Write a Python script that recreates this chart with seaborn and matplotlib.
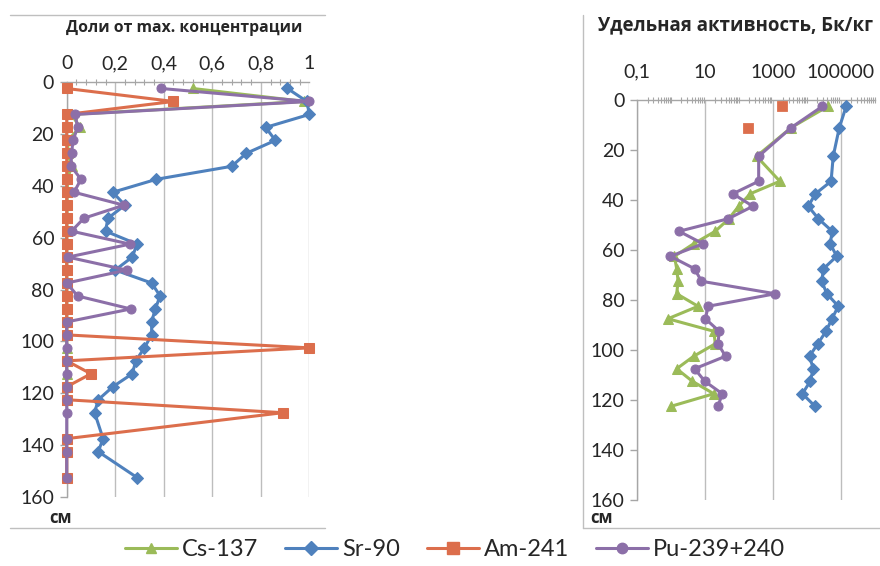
import numpy as np
import matplotlib
matplotlib.use('Agg')
import matplotlib.pyplot as plt
import matplotlib.ticker as mticker
from matplotlib.lines import Line2D
import seaborn as sns

# ---- data: left panel, fraction of max concentration ----
depth_left = [2.5, 7.5, 12.5, 17.5, 22.5, 27.5, 32.5, 37.5, 42.5, 47.5,
              52.5, 57.5, 62.5, 67.5, 72.5, 77.5, 82.5, 87.5, 92.5, 97.5,
              102.5, 107.5, 112.5, 117.5, 122.5, 127.5, 137.5, 142.5, 152.5]
depth_cs_left = depth_left[:25]

cs_left = [0.52, 0.98, 0.02, 0.055, 0.004, 0.005, 0.02, 0.003, 0.002, 0.001,
           0.001, 0.0, 0.0, 0.0, 0.0, 0.0, 0.0, 0.0, 0.0, 0.0,
           0.0, 0.0, 0.0, 0.0, 0.0]
sr_left = [0.91, 0.99, 1.0, 0.82, 0.86, 0.74, 0.68, 0.37, 0.19, 0.24,
           0.17, 0.16, 0.29, 0.27, 0.20, 0.35, 0.385, 0.365, 0.35, 0.35,
           0.32, 0.285, 0.27, 0.19, 0.13, 0.115, 0.15, 0.13, 0.29]
am_left = [0.0, 0.44, 0.0, 0.0, 0.0, 0.0, 0.0, 0.0, 0.0, 0.0,
           0.0, 0.0, 0.0, 0.0, 0.0, 0.0, 0.0, 0.0, 0.0, 0.0,
           1.0, 0.0, 0.1, 0.0, 0.0, 0.89, 0.0, 0.0, 0.0]
pu_left = [0.39, 1.0, 0.035, 0.045, 0.026, 0.02, 0.018, 0.059, 0.03, 0.236,
           0.071, 0.02, 0.261, 0.005, 0.247, 0.0, 0.045, 0.264, 0.0, 0.0,
           0.0, 0.0, 0.0, 0.0, 0.0, 0.0, 0.0, 0.0, 0.0]

# ---- data: right panel, specific activity, Bq/kg ----
depth_right = [2.5, 11, 22.5, 32.5, 37.5, 42.5, 47.5, 52.5, 57.5, 62.5,
               67.5, 72.5, 77.5, 82.5, 87.5, 92.5, 97.5, 102.5, 107.5,
               112.5, 117.5, 122.5]
cs_right = [42000, 3500, 330, 1600, 214, 98, 50, 20, 4.6, 1.25,
            1.45, 1.6, 1.45, 6.2, 0.8, 18, 20, 4.6, 1.45, 4.2, 18, 1.0]
sr_right = [145000, 91000, 60000, 52000, 18000, 11000, 22000, 56000, 49000,
            76000, 31000, 27500, 39000, 85000, 55000, 37000, 21000, 12000,
            15500, 12600, 7400, 17400]
pu_right = [29000, 3500, 380, 380, 66, 257, 48, 1.7, 8.7, 0.95,
            4.9, 7.8, 1175, 12.3, 10.2, 26, 24, 40, 4.9, 9.8, 32, 24]
depth_am_right = [2.5, 11]
am_right = [1900, 180]

names = ['Cs-137', 'Sr-90', 'Am-241', 'Pu-239+240']
colors = {'Cs-137': '#9BBB59', 'Sr-90': '#4F81BD',
          'Am-241': '#DC6E4C', 'Pu-239+240': '#8C6FA8'}
markers = {'Cs-137': '^', 'Sr-90': 'D', 'Am-241': 's', 'Pu-239+240': 'o'}
msize = {'Cs-137': 6.5, 'Sr-90': 6, 'Am-241': 7.5, 'Pu-239+240': 6.5}

sns.set_style('white')
plt.rcParams['font.family'] = ['Lato', 'DejaVu Sans']
cyr = ['Open Sans', 'DejaVu Sans']

fig = plt.figure(figsize=(8.8, 5.66), dpi=100)
ax1 = fig.add_axes([0.0758, 0.1219, 0.2757, 0.7332])
ax2 = fig.add_axes([0.7242, 0.1166, 0.2697, 0.7067])


def draw(ax, x, y, name):
    sns.lineplot(x=x, y=y, ax=ax, sort=False, estimator=None, legend=False,
                 color=colors[name], marker=markers[name], markersize=msize[name],
                 markeredgecolor=colors[name], linewidth=2.2, clip_on=False, zorder=3)


draw(ax1, cs_left, depth_cs_left, 'Cs-137')
draw(ax1, sr_left, depth_left, 'Sr-90')
draw(ax1, am_left, depth_left, 'Am-241')
draw(ax1, pu_left, depth_left, 'Pu-239+240')

draw(ax2, cs_right, depth_right, 'Cs-137')
draw(ax2, sr_right, depth_right, 'Sr-90')
sns.scatterplot(x=am_right, y=depth_am_right, ax=ax2, marker='s', s=50,
                color=colors['Am-241'], edgecolor=colors['Am-241'], zorder=3)
draw(ax2, pu_right, depth_right, 'Pu-239+240')

comma = mticker.FuncFormatter(lambda v, p: ('%g' % v).replace('.', ','))

for ax in (ax1, ax2):
    ax.set_ylim(160, 0)
    ax.set_yticks(np.arange(0, 161, 20))
    ax.xaxis.tick_top()
    ax.xaxis.grid(True, which='major', color='#BDBDBD', linewidth=1)
    ax.yaxis.grid(False)
    for s in ('right', 'bottom'):
        ax.spines[s].set_visible(False)
    for s in ('top', 'left'):
        ax.spines[s].set_color('#A6A6A6')
        ax.spines[s].set_linewidth(1)
    ax.tick_params(axis='y', which='major', left=True, length=5, width=1,
                   color='#A6A6A6', labelsize=14, pad=4, labelcolor='#262626')
    ax.tick_params(axis='x', which='major', top=True, length=0, labelsize=14,
                   pad=7, labelcolor='#262626')
    ax.tick_params(axis='x', which='minor', top=True, length=4, width=0.8,
                   direction='inout', color='#A6A6A6')
    ax.set_xlabel('')
    ax.set_ylabel('')

ax1.set_xlim(0, 1)
ax1.set_xticks(np.arange(0, 1.01, 0.2))
ax1.xaxis.set_minor_locator(mticker.MultipleLocator(0.04))
ax1.xaxis.set_major_formatter(comma)

ax2.set_xscale('log')
ax2.set_xlim(0.1, 1e6)
ax2.xaxis.set_major_locator(mticker.FixedLocator([0.1, 10, 1000, 100000]))
ax2.xaxis.set_minor_locator(mticker.LogLocator(base=10, subs=np.arange(1, 10), numticks=20))
ax2.xaxis.set_major_formatter(comma)
ax2.xaxis.set_minor_formatter(mticker.NullFormatter())
ax2.tick_params(axis='x', which='major', pad=14)

title_kw = dict(ha='center', va='center', fontweight='bold',
                color='#262626', family=cyr)
fig.text(184 / 880, 1 - 28 / 566, 'Доли от max. концентрации', fontsize=11.3, **title_kw)
fig.text(735 / 880, 1 - 25 / 566, 'Удельная активность, Бк/кг', fontsize=13.4, **title_kw)
cm_kw = dict(ha='center', va='center', fontsize=12, fontweight='bold',
             color='#262626', family=cyr)
fig.text(60 / 880, 1 - 518 / 566, 'см', **cm_kw)
fig.text(601 / 880, 1 - 518 / 566, 'см', **cm_kw)

# chart frames
frame = dict(color='#BFBFBF', linewidth=1, transform=fig.transFigure)
fig.add_artist(Line2D([10 / 880, 325 / 880], [1 - 15 / 566] * 2, **frame))
fig.add_artist(Line2D([10 / 880, 325 / 880], [1 - 528 / 566] * 2, **frame))
fig.add_artist(Line2D([583 / 880] * 2, [1 - 15 / 566, 1 - 528 / 566], **frame))
fig.add_artist(Line2D([583 / 880, 1.0], [1 - 528 / 566] * 2, **frame))

handles = [Line2D([], [], color=colors[n], marker=markers[n], markersize=msize[n] + 1,
                  markeredgecolor=colors[n], linewidth=2.2) for n in names]
fig.legend(handles, names, loc='center', bbox_to_anchor=(455 / 880, 1 - 550 / 566),
           ncol=4, frameon=False, fontsize=17, handlelength=2.2,
           columnspacing=1.15, handletextpad=0.2)

fig.savefig('out.png', dpi=100)
